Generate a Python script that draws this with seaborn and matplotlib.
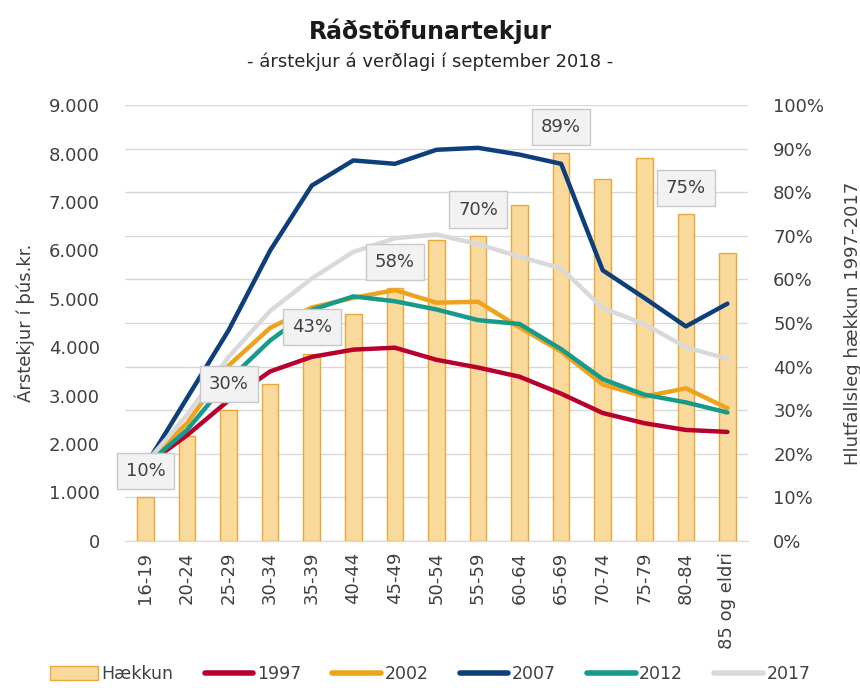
import pandas as pd
import seaborn as sns
import matplotlib.pyplot as plt
from matplotlib.patches import Patch
from matplotlib.lines import Line2D
from matplotlib.ticker import FuncFormatter, MultipleLocator

# age groups and values
aldur = ['16-19', '20-24', '25-29', '30-34', '35-39', '40-44', '45-49', '50-54',
         '55-59', '60-64', '65-69', '70-74', '75-79', '80-84', '85 og eldri']
haekkun = [10, 24, 30, 36, 43, 52, 58, 69, 70, 77, 89, 83, 88, 75, 66]
tekjur_1997 = [1550, 2180, 2900, 3500, 3800, 3950, 3990, 3740, 3580, 3390, 3040, 2640, 2430, 2290, 2250]
tekjur_2002 = [1600, 2430, 3620, 4400, 4820, 5020, 5180, 4920, 4940, 4410, 3910, 3230, 2980, 3150, 2740]
tekjur_2007 = [1550, 2950, 4350, 6000, 7340, 7860, 7790, 8080, 8120, 7980, 7790, 5590, 5020, 4430, 4900]
tekjur_2012 = [1550, 2290, 3320, 4140, 4770, 5050, 4950, 4780, 4560, 4480, 3960, 3340, 3020, 2860, 2650]
tekjur_2017 = [1600, 2600, 3800, 4750, 5420, 5970, 6250, 6330, 6130, 5870, 5630, 4810, 4480, 4000, 3760]
merktir = ['16-19', '25-29', '35-39', '45-49', '55-59', '65-69', '80-84']

ar = ['1997', '2002', '2007', '2012', '2017']
litir = ['#b8002e', '#eea31d', '#0f3f7a', '#169a8a', '#d9d9d9']

sns.set_style("white")
plt.rcParams['font.family'] = ['DejaVu Sans']
textalitur = '#404040'

# long table for the lines
linur = pd.DataFrame({'aldur': aldur, '1997': tekjur_1997, '2002': tekjur_2002,
                      '2007': tekjur_2007, '2012': tekjur_2012, '2017': tekjur_2017})
linur = linur.melt(id_vars='aldur', var_name='ar', value_name='tekjur')
stolpar = pd.DataFrame({'aldur': aldur, 'haekkun': haekkun})

fig = plt.figure(figsize=(8.6, 6.88), dpi=100)
ax = fig.add_axes([0.145, 0.214, 0.725, 0.633])
ax2 = ax.twinx()

# bars on the right axis, drawn underneath the lines
sns.barplot(data=stolpar, x='aldur', y='haekkun', ax=ax2, color='#f9d99c',
            edgecolor='#e9a93a', linewidth=1, width=0.4, saturation=1, zorder=2)
ax2.set_ylim(0, 100)
ax2.yaxis.set_major_locator(MultipleLocator(10))
ax2.yaxis.set_major_formatter(FuncFormatter(lambda v, p: f'{int(v)}%'))
ax2.grid(axis='y', color='#d9d9d9', linewidth=1, zorder=0)
ax2.set_axisbelow(True)

sns.lineplot(data=linur, x='aldur', y='tekjur', hue='ar', palette=litir, ax=ax,
             linewidth=3.2, sort=False, legend=False)
ax.set_zorder(ax2.get_zorder() + 1)
ax.patch.set_visible(False)
ax.set_ylim(0, 9000)
ax.yaxis.set_major_locator(MultipleLocator(1000))
ax.yaxis.set_major_formatter(FuncFormatter(lambda v, p: f'{int(v):,}'.replace(',', '.')))
ax.set_xlim(-0.5, len(aldur) - 0.5)

# percentage labels sit on top of the lines
for a, h in zip(aldur, haekkun):
    if a in merktir:
        ax.annotate(f'{h}%', (aldur.index(a), h), xycoords=ax2.transData,
                    xytext=(0, 19), textcoords='offset points',
                    ha='center', va='center', fontsize=13, color=textalitur, zorder=10,
                    bbox=dict(boxstyle='square,pad=0.5', fc='#f2f2f2', ec='#c8c8c8', lw=1))

ax.set_xlabel('')
ax.set_ylabel('Árstekjur í þús.kr.', fontsize=13, color=textalitur, labelpad=10)
ax2.set_ylabel('Hlutfallsleg hækkun 1997-2017', fontsize=13, color=textalitur, labelpad=14)
ax2.set_xlabel('')

for a in (ax, ax2):
    for s in a.spines.values():
        s.set_visible(False)
    a.tick_params(length=0, labelsize=13, colors=textalitur)
ax2.spines['bottom'].set_visible(True)
ax2.spines['bottom'].set_color('#d9d9d9')
ax.tick_params(axis='y', pad=18)
ax2.tick_params(axis='y', pad=18)
ax.tick_params(axis='x', rotation=90, pad=8)
ax2.tick_params(axis='x', labelbottom=False)
ax.set_xticks(range(len(aldur)))
ax.set_xticklabels(aldur)

fig.text(0.5, 0.955, 'Ráðstöfunartekjur', ha='center', va='center', fontsize=17,
         fontweight='bold', color='#1a1a1a')
fig.text(0.5, 0.91, '- árstekjur á verðlagi í september 2018 -', ha='center', va='center',
         fontsize=13, color='#262626')

handles = [Patch(facecolor='#f9d99c', edgecolor='#e9a93a', label='Hækkun')]
handles += [Line2D([0], [0], color=c, lw=4, label=y) for c, y in zip(litir, ar)]
fig.legend(handles=handles, loc='center', bbox_to_anchor=(0.5, 0.02), ncol=6, frameon=False,
           fontsize=12.5, handlelength=2.8, handleheight=0.9, handletextpad=0.2,
           columnspacing=1.8, labelcolor=textalitur)

fig.savefig('out.png', dpi=100)
